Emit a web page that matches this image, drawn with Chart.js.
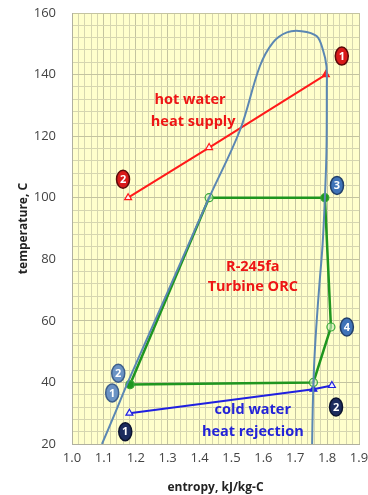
<!DOCTYPE html>
<html>
<head>
<meta charset="utf-8">
<script src="https://cdn.jsdelivr.net/npm/chart.js@4"></script>
<style>
  html, body { margin: 0; padding: 0; background: #fff; }
  #wrap { width: 368px; height: 495px; }
</style>
</head>
<body>
<div id="wrap"><canvas id="myChart" width="368" height="495"></canvas></div>
<script>
// tick labels
const xTicks = [1.0, 1.1, 1.2, 1.3, 1.4, 1.5, 1.6, 1.7, 1.8, 1.9];
const yTicks = [20, 40, 60, 80, 100, 120, 140, 160];

// R-245fa saturation dome (entropy, temperature)
const domeS = [1.094, 1.135, 1.175, 1.26, 1.345, 1.43, 1.527, 1.589, 1.63, 1.674, 1.72, 1.767, 1.787, 1.798, 1.799, 1.798, 1.793, 1.786, 1.776, 1.766, 1.759, 1.755, 1.753];
const domeT = [20, 30, 40, 60, 80, 100, 122, 142.7, 150.4, 153.7, 154.1, 152.5, 148, 142.7, 135, 115, 100, 85, 72, 58, 45, 32, 20];

// hot water heat supply (1 -> 2)
const hotS = [1.796, 1.43, 1.176];
const hotT = [140, 116.3, 100];

// ORC cycle
const orcS = [1.182, 1.43, 1.793, 1.812, 1.757, 1.182];
const orcT = [39.3, 100, 100, 58, 40, 39.3];

// cold water heat rejection (1 -> 2)
const coldS = [1.18, 1.757, 1.815];
const coldT = [30, 37.8, 39];

// numbered state labels
const tagText = ['1', '2', '3', '4', '2', '1', '1', '2'];
const tagS = [1.846, 1.16, 1.831, 1.862, 1.145, 1.126, 1.167, 1.828];
const tagT = [146, 106, 104, 58, 43, 36.6, 24, 32];
const tagKind = ['hot', 'hot', 'orc', 'orc', 'liq', 'liq', 'cold', 'cold'];

// text notes
const noteText = ['hot water', 'heat supply', 'R-245fa', 'Turbine ORC', 'cold water', 'heat rejection'];
const noteS = [1.37, 1.38, 1.567, 1.567, 1.567, 1.567];
const noteT = [131.9, 124.7, 77.6, 71.1, 31.1, 23.9];
const noteKind = ['hot', 'hot', 'hot', 'hot', 'cold', 'cold'];

function pts(xs, ys) {
  return xs.map((x, i) => ({ x: x, y: ys[i] }));
}

const tagColors = {
  hot: ['#d81a1a', '#5a0a0a'],
  orc: ['#3f73b8', '#23406a'],
  liq: ['#6b93c4', '#3d5f8c'],
  cold: ['#1c2c5e', '#0c1430']
};
const noteColors = { hot: '#ee1515', cold: '#2323d8' };

const plotBackground = {
  id: 'plotBackground',
  beforeDraw(chart) {
    const { ctx, chartArea } = chart;
    ctx.save();
    ctx.fillStyle = '#ffffcc';
    ctx.fillRect(chartArea.left, chartArea.top, chartArea.right - chartArea.left, chartArea.bottom - chartArea.top);
    ctx.restore();
  }
};

const notes = {
  id: 'notes',
  afterDatasetsDraw(chart) {
    const ctx = chart.ctx;
    const xs = chart.scales.x, ys = chart.scales.y;
    ctx.save();
    ctx.textAlign = 'center';
    ctx.textBaseline = 'middle';
    ctx.font = 'bold 14.5px "Open Sans"';
    noteText.forEach((t, i) => {
      ctx.fillStyle = noteColors[noteKind[i]];
      ctx.fillText(t, xs.getPixelForValue(noteS[i]), ys.getPixelForValue(noteT[i]));
    });
    ctx.font = 'bold 11px "Open Sans"';
    tagText.forEach((t, i) => {
      const px = xs.getPixelForValue(tagS[i]);
      const py = ys.getPixelForValue(tagT[i]);
      const c = tagColors[tagKind[i]];
      ctx.beginPath();
      ctx.ellipse(px, py, 6.5, 9, 0, 0, Math.PI * 2);
      ctx.fillStyle = c[0];
      ctx.fill();
      ctx.lineWidth = 1.5;
      ctx.strokeStyle = c[1];
      ctx.stroke();
      ctx.fillStyle = '#ffffff';
      ctx.fillText(t, px, py + 0.5);
    });
    ctx.restore();
  }
};

new Chart(document.getElementById('myChart'), {
  type: 'scatter',
  data: {
    datasets: [
      {
        label: 'saturation dome',
        data: pts(domeS, domeT),
        showLine: true,
        borderColor: '#5b87b3',
        borderWidth: 2,
        pointRadius: 0,
        tension: 0.35
      },
      {
        label: 'hot water',
        data: pts(hotS, hotT),
        showLine: true,
        borderColor: '#ff1a1a',
        borderWidth: 2,
        pointStyle: 'triangle',
        pointRadius: 4,
        pointBorderWidth: 1.2,
        pointBorderColor: '#ff1a1a',
        pointBackgroundColor: ['#ff1a1a', '#ffeeee', '#ffeeee']
      },
      {
        label: 'ORC',
        data: pts(orcS, orcT),
        showLine: true,
        borderColor: '#1f961f',
        borderWidth: 2.5,
        pointStyle: 'circle',
        pointRadius: 4,
        pointBorderWidth: 1.2,
        pointBorderColor: '#37a837',
        pointBackgroundColor: ['#1f961f', 'rgba(220,240,200,0.6)', '#1f961f', 'rgba(220,240,200,0.6)', 'rgba(220,240,200,0.6)', '#1f961f']
      },
      {
        label: 'cold water',
        data: pts(coldS, coldT),
        showLine: true,
        borderColor: '#2020e0',
        borderWidth: 2,
        pointStyle: 'triangle',
        pointRadius: 4,
        pointBorderWidth: 1.2,
        pointBorderColor: '#2020e0',
        pointBackgroundColor: ['#eeeeff', '#2020e0', '#eeeeff']
      }
    ]
  },
  options: {
    responsive: false,
    animation: false,
    layout: { padding: { left: 16, top: 13, right: 9, bottom: 0 } },
    plugins: {
      legend: { display: false },
      tooltip: { enabled: false }
    },
    scales: {
      x: {
        type: 'linear',
        min: xTicks[0],
        max: xTicks[xTicks.length - 1],
        afterFit: (scale) => {
          scale.height = 51;
          scale.paddingLeft = 0;
          scale.paddingRight = 0;
        },
        border: { display: true, color: '#b0b0a0', width: 1 },
        grid: {
          drawTicks: false,
          color: (c) => (Math.round(c.tick.value * 100) % 10 === 0 ? '#c4c4a0' : '#d6d6b0'),
          lineWidth: 1
        },
        ticks: {
          stepSize: 0.02,
          autoSkip: false,
          maxRotation: 0,
          padding: 6,
          color: '#444',
          font: { family: 'Open Sans', size: 13 },
          callback: (v) => (Math.round(v * 100) % 10 === 0 ? v.toFixed(1) : '')
        },
        title: {
          display: true,
          text: 'entropy, kJ/kg-C',
          color: '#222',
          font: { family: 'Open Sans', size: 12, weight: 'bold' },
          padding: { top: 0, bottom: 0 }
        }
      },
      y: {
        type: 'linear',
        min: yTicks[0],
        max: yTicks[yTicks.length - 1],
        afterFit: (scale) => {
          scale.width = 56;
          scale.paddingTop = 0;
          scale.paddingBottom = 0;
        },
        border: { display: true, color: '#b0b0a0', width: 1 },
        grid: {
          drawTicks: false,
          color: (c) => (Math.round(c.tick.value) % 20 === 0 ? '#c4c4a0' : '#d6d6b0'),
          lineWidth: 1
        },
        ticks: {
          stepSize: 4,
          autoSkip: false,
          padding: 16,
          color: '#444',
          font: { family: 'Open Sans', size: 13 },
          callback: (v) => (Math.round(v) % 20 === 0 ? String(Math.round(v)) : '')
        },
        title: {
          display: true,
          text: 'temperature, C',
          color: '#222',
          font: { family: 'Open Sans', size: 12, weight: 'bold' },
          padding: { top: 0, bottom: 0 }
        }
      }
    }
  },
  plugins: [plotBackground, notes]
});
</script>
</body>
</html>
